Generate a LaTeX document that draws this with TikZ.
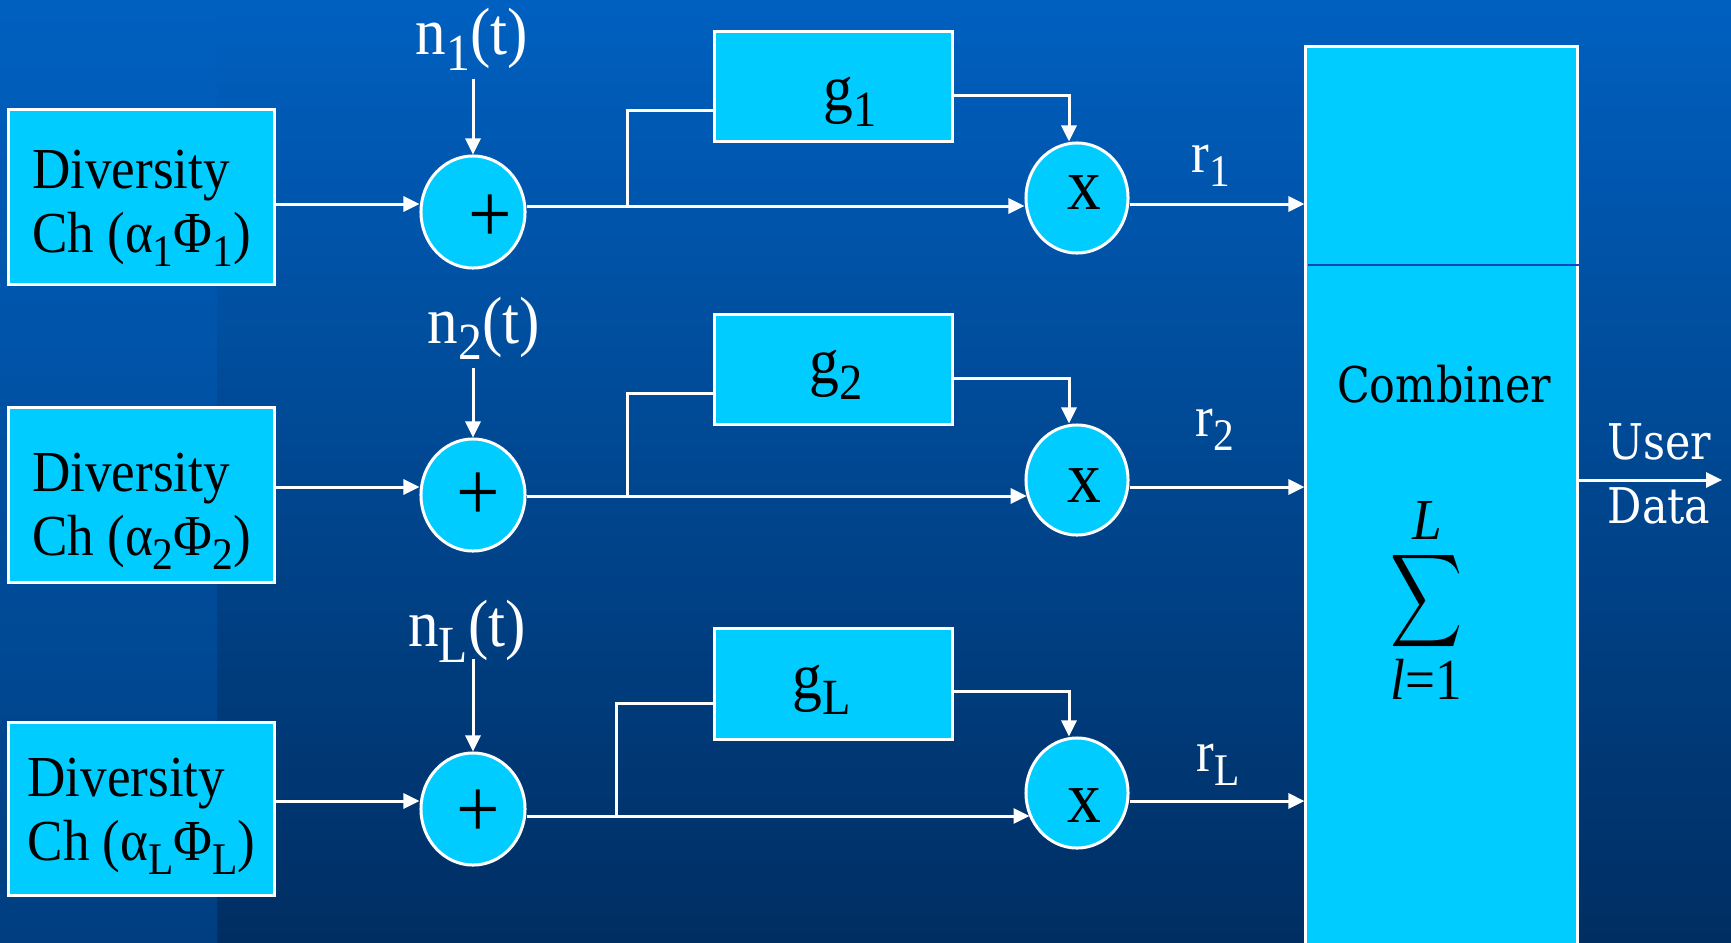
\documentclass[tikz,border=0pt]{standalone}
\usepackage{graphicx}
\usepackage{fontspec}
\setmainfont{Liberation Serif}[FakeStretch=0.915]
\newfontfamily\wideserif{DejaVu Serif}[FakeStretch=0.87]
\usetikzlibrary{shapes.geometric,arrows.meta}
\definecolor{cyanfill}{RGB}{0,204,255}
\definecolor{bgtop}{RGB}{0,96,192}
\definecolor{bgbot}{RGB}{0,46,98}
\definecolor{bandbot}{RGB}{0,62,128}
\definecolor{divline}{RGB}{20,70,190}
\newcommand\subx[1]{\raisebox{-0.24em}{\scalebox{0.78}{#1}}}
\begin{document}
\begin{tikzpicture}[x=0.01cm,y=-0.01cm,
  mainfont/.style={font=\fontsize{16.5}{18.2}\selectfont},
  wline/.style={draw=white,line width=0.03cm},
  arr/.style={wline,-{Triangle[length=0.16cm,width=0.15cm]}},
  box/.style={draw=white,fill=cyanfill,line width=0.03cm,rectangle,inner sep=0pt},
  divbox/.style={box,minimum width=2.65cm,minimum height=1.74cm},
  divtxt/.style={inner sep=0pt,align=left,text=black,mainfont},
  gbox/.style={box,minimum width=2.37cm,minimum height=1.09cm},
  circ/.style={draw=white,fill=cyanfill,line width=0.03cm,ellipse,inner sep=0pt,minimum width=1.04cm,minimum height=1.12cm},
  mcirc/.style={circ,minimum width=1.02cm,minimum height=1.10cm},
  blk/.style={inner sep=0pt,text=black,mainfont},
  wht/.style={inner sep=0pt,text=white,mainfont},
  noiselab/.style={wht,font=\fontsize{19}{20}\selectfont},
  glab/.style={blk,font=\fontsize{18.5}{20}\selectfont},
  pluslab/.style={blk,font=\fontsize{24}{24}\selectfont},
  xlab/.style={inner sep=0pt,text=black,font=\fontsize{21}{22}\selectfont},
  wide/.style={inner sep=0pt,font=\wideserif\fontsize{14}{18.2}\selectfont}
]
\useasboundingbox (0,0) rectangle (1731,942);
\fill[top color=bgtop,bottom color=bgbot] (217,0) rectangle (1731,942);
\fill[top color=bgtop,bottom color=bandbot] (0,0) rectangle (217,942);
\clip (0,0) rectangle (1731,942);

% diversity channels
\node[divbox] (d1) at (141.5,197) {};
\node[divbox] (d2) at (141.5,495) {};
\node[divbox,minimum height=1.72cm] (dL) at (141.5,809) {};
\node[divtxt] (d1t) at (141.5,208) {Diversity\\Ch (α\subx{1}Φ\subx{1})};
\node[divtxt] (d2t) at (141.5,511) {Diversity\\Ch (α\subx{2}Φ\subx{2})};
\node[divtxt] (dLt) at (141.5,816) {Diversity\\Ch (α\subx{L}Φ\subx{L})};

% adders
\node[circ] (s1) at (473,212) {};
\node[circ] (s2) at (473,495) {};
\node[circ] (sL) at (473,809) {};
\node[pluslab] (p1) at (490,219) {+};
\node[pluslab] (p2) at (478,497) {+};
\node[pluslab] (pL) at (478,814) {+};

% noise
\node[noiselab] (n1) at (472,39) {n\subx{1}(t)};
\node[noiselab] (n2) at (484,328) {n\subx{2}(t)};
\node[noiselab] (nL) at (467,631) {n\subx{L}(t)};
\coordinate (n1a) at (473,79);
\coordinate (n2a) at (473,368);
\coordinate (nLa) at (473,659);

% g boxes
\node[gbox] (g1) at (833.5,86.5) {};
\node[gbox] (g2) at (833.5,369.5) {};
\node[gbox,minimum height=1.10cm] (gL) at (833.5,684) {};
\node[glab] (g1t) at (850,102) {g\subx{1}};
\node[glab] (g2t) at (836,375) {g\subx{2}};
\node[glab] (gLt) at (822,690) {g\subx{L}};

% multipliers
\node[mcirc] (m1) at (1077,198) {};
\node[mcirc] (m2) at (1077,480) {};
\node[mcirc] (mL) at (1077,793) {};
\node[xlab] (x1) at (1084,193) {x};
\node[xlab] (x2) at (1084,486) {x};
\node[xlab] (xL) at (1084,806) {x};

% r labels
\node[wht] (r1) at (1211,166) {r\subx{1}};
\node[wht] (r2) at (1215,430) {r\subx{2}};
\node[wht] (rL) at (1218,765) {r\subx{L}};

% combiner
\node[box,minimum width=2.71cm,minimum height=9.06cm] (comb) at (1441.5,500) {};
\coordinate (dv) at (1308,265);
\draw[divline,line width=0.012cm] (dv) -- (dv -| comb.east);
\node[wide,text=black] (ctext) at (1444,384) {Combiner};
\node[inner sep=0pt,text=black] (sig) at (1427,601) {\scalebox{1.42}[1.85]{$\displaystyle\sum$}};
\node[blk] (sumL) at (1427,520) {\textit{L}};
\node[blk] (suml) at (1426,679) {\textit{l}=1};
\node[wide,text=white,align=center] (ud) at (1659,474) {User\\Data};
\coordinate (udend) at (1722,480);

% row levels
\coordinate (y1a) at (0,204);  \coordinate (y1b) at (0,206);  \coordinate (y1c) at (0,204);
\coordinate (y2a) at (0,487);  \coordinate (y2b) at (0,496);  \coordinate (y2c) at (0,487);
\coordinate (yLa) at (0,801);  \coordinate (yLb) at (0,816);  \coordinate (yLc) at (0,801);

% connectors row 1
\draw[arr] (d1.east |- y1a) -- (s1.west |- y1a);
\draw[arr] (n1a) -- (s1.north);
\draw[arr] (s1.east |- y1b) -- (m1.west |- y1b);
\coordinate (b1) at (627,206);
\coordinate (b1t) at (627,110);
\draw[wline] (b1) -- (b1t) -- (b1t -| g1.west);
\coordinate (c1) at (1069,95);
\draw[arr] (c1 -| g1.east) -- (c1) -- (c1 |- m1.north);
\draw[arr] (m1.east |- y1c) -- (comb.west |- y1c);

% connectors row 2
\draw[arr] (d2.east |- y2a) -- (s2.west |- y2a);
\draw[arr] (n2a) -- (s2.north);
\draw[arr] (s2.east |- y2b) -- (m2.198 |- y2b);
\coordinate (b2) at (627,496);
\coordinate (b2t) at (627,393);
\draw[wline] (b2) -- (b2t) -- (b2t -| g2.west);
\coordinate (c2) at (1069,378);
\draw[arr] (c2 -| g2.east) -- (c2) -- (c2 |- m2.north);
\draw[arr] (m2.east |- y2c) -- (comb.west |- y2c);

% connectors row L
\draw[arr] (dL.east |- yLa) -- (sL.west |- yLa);
\draw[arr] (nLa) -- (sL.north);
\draw[arr] (sL.east |- yLb) -- (mL.207 |- yLb);
\coordinate (bL) at (616,816);
\coordinate (bLt) at (616,703);
\draw[wline] (bL) -- (bLt) -- (bLt -| gL.west);
\coordinate (cL) at (1069,691);
\draw[arr] (cL -| gL.east) -- (cL) -- (cL |- mL.north);
\draw[arr] (mL.east |- yLc) -- (comb.west |- yLc);

% output
\draw[arr] (udend -| comb.east) -- (udend);
\end{tikzpicture}
\end{document}
